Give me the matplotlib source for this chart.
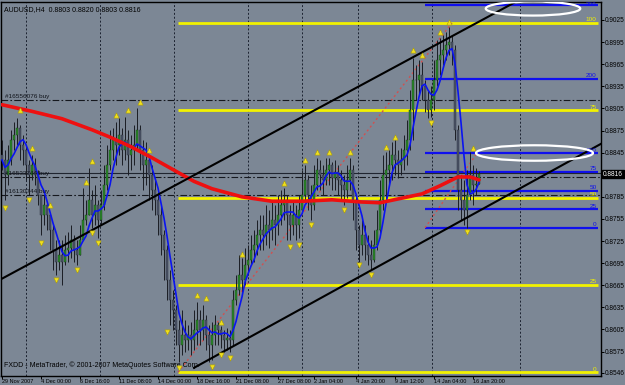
import numpy as np
import pandas as pd
import matplotlib
matplotlib.use('Agg')
import matplotlib.pyplot as plt
import matplotlib.patches as patches
import matplotlib.transforms as mtransforms

plt.rcParams['font.family'] = ['Liberation Sans', 'DejaVu Sans']

# AUDUSD H4 bars, prices in pips (price * 10000)
first_open = 8842
close_pips = [8835, 8815, 8835, 8862, 8869, 8878, 8855, 8849, 8828, 8815,
              8828, 8815, 8788, 8760, 8774, 8760, 8740, 8713, 8697, 8706,
              8697, 8713, 8716, 8726, 8713, 8706, 8726, 8754, 8760, 8781,
              8760, 8774, 8754, 8774, 8801, 8828, 8849, 8862, 8855, 8869,
              8849, 8862, 8842, 8849, 8855, 8876, 8849, 8828, 8835, 8815,
              8794, 8781, 8760, 8733, 8713, 8672, 8645, 8631, 8604, 8584,
              8598, 8591, 8598, 8591, 8604, 8618, 8604, 8618, 8598, 8584,
              8598, 8611, 8604, 8598, 8591, 8593, 8591, 8645, 8659, 8679,
              8672, 8693, 8699, 8713, 8720, 8733, 8740, 8733, 8747, 8740,
              8754, 8747, 8760, 8774, 8781, 8760, 8747, 8760, 8747, 8767,
              8788, 8808, 8788, 8774, 8801, 8821, 8815, 8808, 8821, 8828,
              8811, 8819, 8808, 8801, 8794, 8808, 8821, 8781, 8740, 8720,
              8733, 8720, 8706, 8699, 8720, 8740, 8781, 8815, 8821, 8828,
              8842, 8835, 8828, 8835, 8849, 8862, 8903, 8944, 8944, 8950,
              8936, 8916, 8903, 8916, 8944, 8971, 8977, 8984, 8991, 8995,
              8984, 8876, 8794, 8781, 8767, 8788, 8815, 8801, 8803, 8816]
high_pips = [8862, 8849, 8855, 8876, 8887, 8892, 8882, 8869, 8855, 8835,
             8842, 8838, 8821, 8788, 8788, 8767, 8764, 8747, 8726, 8726,
             8726, 8733, 8737, 8747, 8733, 8726, 8747, 8797, 8781, 8824,
             8794, 8801, 8781, 8794, 8828, 8855, 8876, 8878, 8887, 8892,
             8878, 8893, 8876, 8869, 8882, 8906, 8882, 8862, 8859, 8842,
             8828, 8808, 8794, 8774, 8740, 8720, 8686, 8659, 8638, 8618,
             8631, 8618, 8611, 8615, 8631, 8642, 8631, 8638, 8625, 8611,
             8615, 8625, 8615, 8610, 8604, 8607, 8604, 8659, 8679, 8706,
             8702, 8716, 8720, 8733, 8740, 8754, 8760, 8760, 8774, 8767,
             8781, 8774, 8788, 8794, 8797, 8788, 8774, 8781, 8774, 8788,
             8821, 8828, 8815, 8801, 8828, 8838, 8835, 8828, 8838, 8838,
             8832, 8835, 8828, 8821, 8815, 8828, 8838, 8828, 8788, 8747,
             8754, 8747, 8733, 8726, 8740, 8767, 8808, 8842, 8846, 8849,
             8859, 8862, 8849, 8851, 8869, 8889, 8930, 8973, 8964, 8971,
             8968, 8944, 8930, 8936, 8971, 8998, 9000, 9005, 9009, 9016,
             9005, 8991, 8882, 8815, 8808, 8821, 8846, 8828, 8824, 8820]
low_pips = [8821, 8781, 8801, 8828, 8849, 8855, 8835, 8828, 8808, 8788,
            8808, 8801, 8774, 8733, 8747, 8740, 8713, 8686, 8679, 8686,
            8665, 8693, 8697, 8702, 8697, 8693, 8706, 8726, 8747, 8760,
            8743, 8747, 8729, 8747, 8767, 8794, 8821, 8835, 8828, 8842,
            8828, 8835, 8815, 8821, 8828, 8849, 8821, 8794, 8801, 8781,
            8767, 8760, 8733, 8706, 8672, 8645, 8611, 8604, 8584, 8561,
            8570, 8574, 8577, 8570, 8577, 8584, 8584, 8591, 8577, 8561,
            8564, 8584, 8584, 8580, 8574, 8577, 8574, 8584, 8638, 8652,
            8652, 8665, 8679, 8693, 8697, 8706, 8713, 8713, 8720, 8716,
            8726, 8720, 8733, 8747, 8754, 8726, 8726, 8733, 8726, 8729,
            8767, 8781, 8767, 8754, 8767, 8794, 8794, 8788, 8801, 8801,
            8794, 8794, 8788, 8781, 8774, 8783, 8794, 8754, 8713, 8697,
            8706, 8699, 8693, 8686, 8697, 8713, 8733, 8767, 8781, 8801,
            8808, 8815, 8811, 8815, 8821, 8828, 8849, 8862, 8916, 8923,
            8916, 8900, 8892, 8893, 8903, 8936, 8950, 8964, 8971, 8977,
            8964, 8862, 8767, 8754, 8747, 8743, 8781, 8774, 8788, 8803]

# slow moving average (red), read at a few bars
red_bars = [0, 10, 20, 30, 36, 43, 50, 57, 64, 70, 80, 90, 100, 110, 120, 126, 133, 140, 146, 152, 156, 159]
red_pips = [8910, 8901, 8891, 8876, 8866, 8853, 8838, 8822, 8806, 8796, 8785, 8779, 8779, 8781,
            8778, 8777, 8783, 8789, 8800, 8812, 8812, 8808]

# fractals
up_bars = [6, 10, 16, 28, 30, 38, 42, 46, 49, 65, 68, 73, 80, 94, 101, 105, 109, 116,
           128, 131, 137, 140, 146, 149, 157]
up_pips = [8903, 8851, 8774, 8805, 8834, 8896, 8903, 8914, 8849, 8652, 8648, 8615, 8707,
           8804, 8835, 8846, 8846, 8846, 8853, 8866, 8984, 8977, 9009, 9022, 8851]
dn_bars = [1, 9, 13, 18, 25, 30, 32, 55, 59, 70, 73, 76, 96, 99, 103, 114, 119, 123, 143, 155]
dn_pips = [8770, 8781, 8722, 8672, 8686, 8736, 8722, 8602, 8553, 8554, 8570, 8566, 8717,
           8720, 8747, 8767, 8693, 8679, 8885, 8737]

# fibonacci retracements
fib1_start, fib1_end = 58.7, 150
fib1_lo, fib1_hi = 0.8547, 0.9021
fib1_levels = [0, 25, 50, 75, 100]
fib2_start, fib2_end = 141, 158.3
fib2_lo, fib2_hi = 0.8743, 0.8844
fib2_levels = [0, 25, 50, 75, 100, 200, 300]

# channel lines (bar, price)
chan_up = [(0, 0.8674), (150, 0.9003)]
chan_dn = [(64, 0.8553), (143, 0.8730)]

# orders
orders = [0.8916, 0.8812, 0.8788]
order_names = ['#16556076 buy', '#16533744 buy', '#16130744 buy']

# ellipses: (bar, price, width in bars, height)
ellipses = [(177, 0.90405, 31.5, 0.0019), (177.5, 0.88445, 39, 0.0021)]

date_bars = [0, 13, 26, 39, 52, 65, 78, 92, 104, 118, 131, 144, 157]
date_labels = ['29 Nov 2007', '4 Dec 00:00', '6 Dec 16:00', '11 Dec 08:00', '14 Dec 00:00',
               '18 Dec 16:00', '21 Dec 08:00', '27 Dec 08:00', '2 Jan 04:00', '4 Jan 20:00',
               '9 Jan 12:00', '14 Jan 04:00', '16 Jan 20:00']
grid_bars = [8, 32.67, 57.33, 82, 100, 118.67, 143.33, 172.67]
price_ticks = [0.9025, 0.8995, 0.8965, 0.8935, 0.8905, 0.8875, 0.8845, 0.8785, 0.8755,
               0.8725, 0.8695, 0.8665, 0.8635, 0.8605, 0.8575, 0.8546]

close = np.array(close_pips) / 10000
high = np.array(high_pips) / 10000
low = np.array(low_pips) / 10000
opn = np.concatenate([[first_open / 10000], close[:-1]])
bars = np.arange(len(close))
ma_fast = pd.Series(close).rolling(5, min_periods=1).mean()

bg = '#7c8795'
fig = plt.figure(figsize=(6.25, 3.85), dpi=100, facecolor=bg)
ax = fig.add_axes([1 / 625, 9 / 385, 600 / 625, 374 / 385])
ax.set_facecolor(bg)
xmin, xmax = -0.333, 199.667
ax.set_xlim(xmin, xmax)
ax.set_ylim(0.85419, 0.90494)

for g in grid_bars:
    ax.axvline(g, color='#1c2230', lw=0.7, ls=(0, (2, 2)), zorder=1)

# fibo 1 (yellow)
for lv in fib1_levels:
    p = fib1_lo + (fib1_hi - fib1_lo) * lv / 100
    ax.hlines(p, fib1_start, xmax - 1, color='#f2f200', lw=2, zorder=2)
    ax.text(xmax - 1.5, p + 0.00008, str(lv), color='#f2f200', fontsize=4.6, ha='right', va='bottom', zorder=6)
ax.plot([fib1_start, fib1_end], [fib1_lo, fib1_hi], color='#d05050', lw=1, ls=(0, (1.5, 2)), zorder=2)

# fibo 2 (blue)
for lv in fib2_levels:
    p = fib2_lo + (fib2_hi - fib2_lo) * lv / 100
    ax.hlines(p, fib2_start, xmax - 1, color='#1010ee', lw=1.6, zorder=2)
    ax.text(xmax - 1.5, min(p + 0.00008, 0.9042), str(lv), color='#1010ee', fontsize=4.6,
            ha='right', va='bottom', zorder=6)
ax.plot([fib2_start, fib2_end], [fib2_lo, fib2_hi], color='#d05050', lw=1, ls=(0, (1.5, 2)), zorder=2)

# orders and bid line
for p, name in zip(orders, order_names):
    ax.axhline(p, color='#15181e', lw=0.8, ls=(0, (6, 2, 1.5, 2)), zorder=2)
    ax.text(1, p + 0.00012, name, fontsize=4.6, color='#10131a', va='bottom', ha='left', zorder=6)
ax.axhline(close[-1] + 0.0001, color='#202530', lw=0.8, zorder=2)

# candles
up = close >= opn
ax.vlines(bars, low, high, color='#1a1d24', lw=0.7, zorder=3)
ax.bar(bars[up], (close - opn)[up], bottom=opn[up], width=0.7, color='#2a8a2a',
       edgecolor='#1a3a1a', lw=0.3, zorder=4)
ax.bar(bars[~up], (opn - close)[~up], bottom=close[~up], width=0.7, color='#4b5468',
       edgecolor='#2a2f3a', lw=0.3, zorder=4)

# moving averages
ax.plot(bars, ma_fast, color='#0a14f0', lw=1.2, zorder=5)
ax.plot(red_bars, np.array(red_pips) / 10000, color='#ee1010', lw=2.6, zorder=5,
        solid_capstyle='round', solid_joinstyle='round')

# fractals
ax.scatter(up_bars, np.array(up_pips) / 10000, marker='^', s=14, color='#f0e020',
           edgecolors='#b0a000', lw=0.4, zorder=6)
ax.scatter(dn_bars, np.array(dn_pips) / 10000, marker='v', s=14, color='#f0e020',
           edgecolors='#b0a000', lw=0.4, zorder=6)

# channel
ax.axline(chan_up[0], chan_up[1], color='black', lw=1.5, zorder=5)
sl = (chan_dn[1][1] - chan_dn[0][1]) / (chan_dn[1][0] - chan_dn[0][0])
ax.plot([chan_dn[0][0], xmax], [chan_dn[0][1], chan_dn[0][1] + sl * (xmax - chan_dn[0][0])],
        color='black', lw=1.5, zorder=5)

# ellipses
for ex, ey, ew, eh in ellipses:
    ax.add_patch(patches.Ellipse((ex, ey), ew, eh, fill=False, ec='white', lw=1.6, zorder=6))

# axes styling
for s in ax.spines.values():
    s.set_color('black')
    s.set_linewidth(1)
ax.yaxis.tick_right()
ax.set_yticks(price_ticks)
ax.set_yticklabels(['%.4f' % t for t in price_ticks])
ax.tick_params(axis='y', direction='out', length=2, width=0.7, labelsize=4.7, pad=0.8, colors='black')
ax.set_xticks(date_bars)
ax.set_xticklabels(date_labels)
for lab in ax.get_xticklabels():
    lab.set_horizontalalignment('left')
ax.tick_params(axis='x', direction='out', length=2, width=0.7, labelsize=4.0, pad=0.5, colors='black')

# current price box
trans = mtransforms.blended_transform_factory(ax.transAxes, ax.transData)
ax.text(1.0035, close[-1], '%.4f' % close[-1], transform=trans, fontsize=4.7, color='white',
        va='center', ha='left', bbox=dict(boxstyle='square,pad=0.1', fc='black', ec='black'),
        zorder=10, clip_on=False)

ax.text(0.005, 0.988, 'AUDUSD,H4  0.8803 0.8820 0.8803 0.8816', transform=ax.transAxes,
        fontsize=5, va='top', ha='left', color='black')
ax.text(0.005, 0.018, 'FXDD - MetaTrader, \u00a9 2001-2007 MetaQuotes Software Corp.',
        transform=ax.transAxes, fontsize=5, va='bottom', ha='left', color='black')

fig.savefig('out.png', dpi=100, facecolor=bg)
